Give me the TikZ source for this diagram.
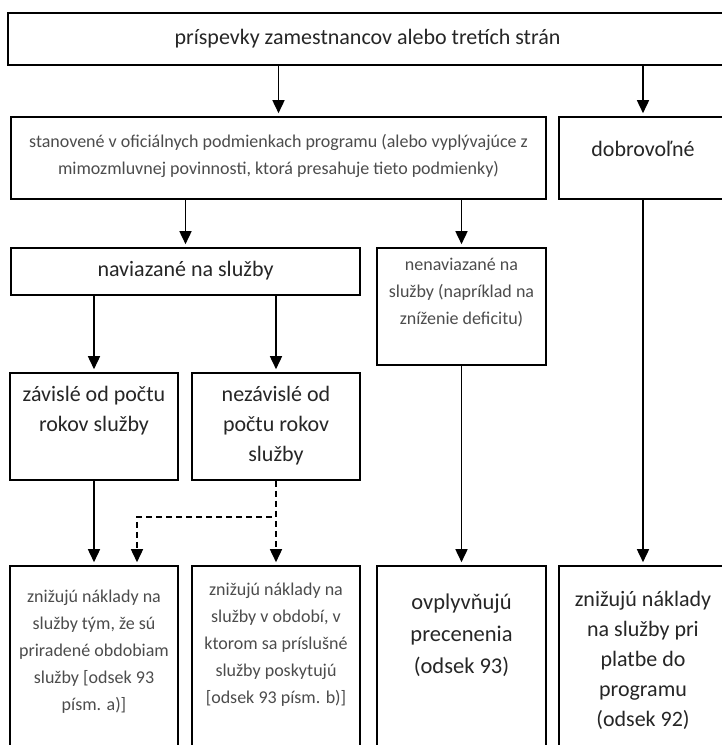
\documentclass[tikz,border=0pt]{standalone}
\usepackage{fontspec}
\setmainfont{Carlito}
\usetikzlibrary{arrows.meta,positioning}

\begin{document}
\begin{tikzpicture}[x=1pt,y=-1pt,
  box/.style={draw, line width=1.6pt, inner sep=0pt},
  bigtxt/.style={anchor=base, align=center, inner sep=0pt, font=\fontsize{22}{30}\selectfont, text=black!85},
  smalltxt/.style={anchor=base, align=center, inner sep=0pt, font=\fontsize{18}{27}\selectfont, text=black!70},
  arr/.style={line width=1.6pt, -{Triangle[width=12pt,length=13pt]}, shorten >=3pt},
  dasharr/.style={arr, dash pattern=on 6pt off 4pt}]
  \fill[white] (0,0) rectangle (721,745);
  \useasboundingbox (0,0) rectangle (721,745);

  % Boxes
  \node[box, minimum width=719pt, minimum height=52pt] (contrib) at (367.5,39) {};
  \node[box, minimum width=535pt, minimum height=82pt] (formal) at (278.5,158) {};
  \node[box, minimum width=168pt, minimum height=82pt] (volunt) at (643,158) {};
  \node[box, minimum width=349pt, minimum height=47pt] (linked) at (185.5,271.5) {};
  \node[box, minimum width=169pt, minimum height=117pt] (unlinked) at (461.5,306.5) {};
  \node[box, minimum width=168pt, minimum height=107pt] (dep) at (94,426.5) {};
  \node[box, minimum width=168pt, minimum height=107pt] (indep) at (276,426.5) {};
  \node[box, minimum width=168pt, minimum height=204pt] (out1) at (94,668) {};
  \node[box, minimum width=168pt, minimum height=204pt] (out2) at (276,668) {};
  \node[box, minimum width=169pt, minimum height=204pt] (out3) at (461.5,668) {};
  \node[box, minimum width=168pt, minimum height=204pt] (out4) at (643,668) {};

  % Texts (base = last line)
  \node[bigtxt] (contribtxt) at ([yshift=-32pt]contrib.north) {príspevky zamestnancov alebo tretích strán};
  \node[smalltxt] (formaltxt) at ([yshift=-58pt]formal.north) {stanovené v oficiálnych podmienkach programu (alebo vyplývajúce z\\mimozmluvnej povinnosti, ktorá presahuje tieto podmienky)};
  \node[bigtxt] (volunttxt) at ([yshift=-40pt]volunt.north) {dobrovoľné};
  \node[bigtxt] (linkedtxt) at ([yshift=-29pt]linked.north) {naviazané na služby};
  \node[smalltxt] (unlinkedtxt) at ([yshift=-77pt]unlinked.north) {nenaviazané na\\služby (napríklad na\\zníženie deficitu)};
  \node[bigtxt] (deptxt) at ([yshift=-59pt]dep.north) {závislé od počtu\\rokov služby};
  \node[bigtxt] (indeptxt) at ([yshift=-89pt]indep.north) {nezávislé od\\počtu rokov\\služby};
  \node[smalltxt] (out1txt) at ([yshift=-145pt]out1.north) {znižujú náklady na\\služby tým, že sú\\priradené obdobiam\\služby [odsek 93\\písm. a)]};
  \node[smalltxt] (out2txt) at ([yshift=-138pt]out2.north) {znižujú náklady na\\služby v období, v\\ktorom sa príslušné\\služby poskytujú\\{[odsek 93 písm. b)]}};
  \node[bigtxt, font=\fontsize{22.5}{32}\selectfont] (out3txt) at ([yshift=-108pt]out3.north) {ovplyvňujú\\precenenia\\(odsek 93)};
  \node[bigtxt] (out4txt) at ([yshift=-161pt]out4.north) {znižujú náklady\\na služby pri\\platbe do\\programu\\(odsek 92)};

  % Connectors
  \draw[arr] (contrib.south -| formal.north) -- (formal.north);
  \draw[arr] (contrib.south -| volunt.north) -- (volunt.north);
  \draw[arr] (formal.south -| linked.north) -- (linked.north);
  \draw[arr] (formal.south -| unlinked.north) -- (unlinked.north);
  \draw[arr] (linked.south -| dep.north) -- (dep.north);
  \draw[arr] (linked.south -| indep.north) -- (indep.north);
  \draw[arr] (dep.south) -- (out1.north);
  \draw[dasharr] (indep.south) -- (out2.north);
  \draw[dasharr] (indep.south) -- ++(0,36) -| ([xshift=43pt]out1.north);
  \draw[arr] (unlinked.south) -- (out3.north);
  \draw[arr] (volunt.south) -- (out4.north);
\end{tikzpicture}
\end{document}
